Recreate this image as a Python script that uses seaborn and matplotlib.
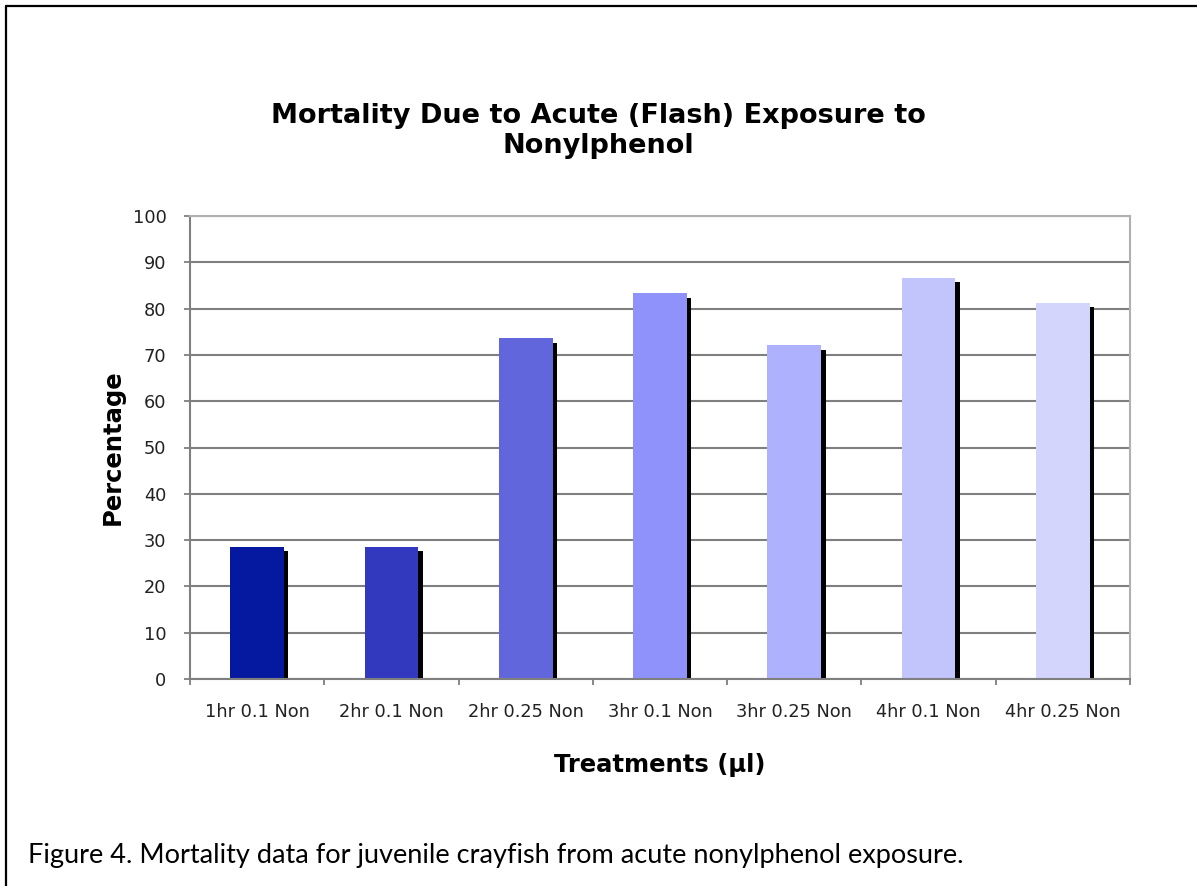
import matplotlib
matplotlib.use("Agg")
import numpy as np
import pandas as pd
import matplotlib.pyplot as plt
import matplotlib.patheffects as pe
from matplotlib.lines import Line2D
import seaborn as sns

# data
treatments = ['1hr 0.1 Non', '2hr 0.1 Non', '2hr 0.25 Non', '3hr 0.1 Non',
              '3hr 0.25 Non', '4hr 0.1 Non', '4hr 0.25 Non']
mortality = [28.6, 28.6, 73.7, 83.3, 72.2, 86.7, 81.3]
bar_colors = ['#0519A0', '#3339BF', '#6266DD', '#8F92FA',
              '#AEB1FD', '#C2C4FC', '#D4D5FD']
y_ticks = [0, 10, 20, 30, 40, 50, 60, 70, 80, 90, 100]

title = 'Mortality Due to Acute (Flash) Exposure to\nNonylphenol'
caption = 'Figure 4. Mortality data for juvenile crayfish from acute nonylphenol exposure.'

sns.set_theme(style="white")
plt.rcParams['font.family'] = ['DejaVu Sans']

W, H = 1197, 886
df = pd.DataFrame({'Treatment': treatments, 'Percentage': mortality})

fig = plt.figure(figsize=(W / 100, H / 100), dpi=100)
fig.patch.set_facecolor('white')
ax = fig.add_axes([190 / W, 1 - 679 / H, 940 / W, 463 / H])

sns.barplot(data=df, x='Treatment', y='Percentage', hue='Treatment',
            palette=bar_colors, width=0.4, legend=False, ax=ax,
            saturation=1, linewidth=0)

# Excel-style drop shadow on each bar
for p in ax.patches:
    p.set_path_effects([pe.SimplePatchShadow(offset=(3.2, -3.5),
                                             shadow_rgbFace='black', alpha=1),
                        pe.Normal()])

ax.set_ylim(0, 100)
ax.set_xlim(-0.5, len(treatments) - 0.5)
ax.set_yticks(y_ticks)
ax.set_axisbelow(True)
ax.yaxis.grid(True, color='#7f7f7f', linewidth=1.5)
ax.xaxis.grid(False)

for side in ['left', 'bottom']:
    ax.spines[side].set_color('#7f7f7f')
    ax.spines[side].set_linewidth(1.5)
for side in ['top', 'right']:
    ax.spines[side].set_color('#b0b0b0')
    ax.spines[side].set_linewidth(1.5)

ax.tick_params(axis='y', which='major', direction='out', length=4, width=1.3,
               color='#7f7f7f', labelsize=12.8, pad=13, left=True)
ax.tick_params(axis='x', which='major', length=0, labelsize=12.8, pad=17)
ax.set_xticks(np.arange(-0.5, len(treatments)), minor=True)
ax.tick_params(axis='x', which='minor', direction='out', length=4, width=1.3,
               color='#7f7f7f', bottom=True)
for lab in ax.get_yticklabels() + ax.get_xticklabels():
    lab.set_color('#222222')

ax.set_xlabel('Treatments (µl)', fontsize=17.5, fontweight='bold', color='black')
ax.xaxis.label.set_va('center')
ax.xaxis.set_label_coords(0.5, -(765 - 679) / 463)
ax.set_ylabel('Percentage', fontsize=17.5, fontweight='bold', color='black')
ax.yaxis.label.set_va('center')
ax.yaxis.set_label_coords(-(190 - 113) / 940, 0.5)

fig.text(598 / W, 1 - 131 / H, title, ha='center', va='center', fontsize=19.5,
         fontweight='bold', linespacing=1.2, color='black')

fig.text(28 / W, 1 - 855 / H, caption, ha='left', va='center', fontsize=19.5,
         family=['Lato', 'DejaVu Sans'], color='black')

# page frame (left and top edges)
fig.add_artist(Line2D([6 / W, 6 / W], [0, 1 - 6 / H],
                      transform=fig.transFigure, color='black', linewidth=1.6))
fig.add_artist(Line2D([6 / W, 1], [1 - 6 / H, 1 - 6 / H],
                      transform=fig.transFigure, color='black', linewidth=1.6))

fig.savefig('out.png', dpi=100)
